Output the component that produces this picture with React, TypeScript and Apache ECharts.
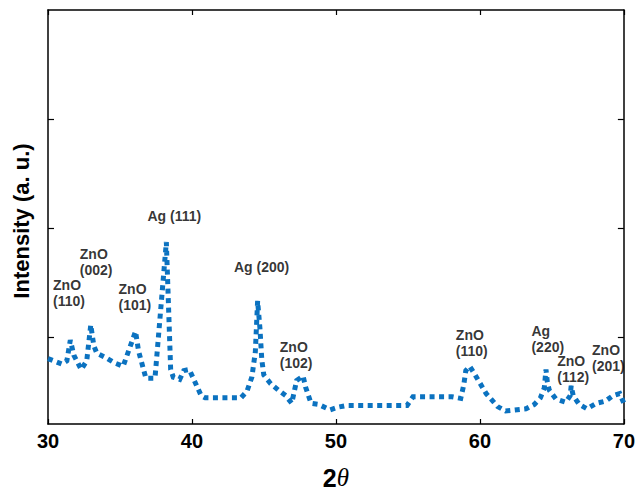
import React, { useEffect, useRef } from "react";
import * as echarts from "echarts";

const twoTheta: number[] = [
  30.0, 30.97, 31.31, 31.55, 31.8, 32.0, 32.31, 32.69, 32.97, 33.18, 33.39, 34.0, 34.63, 35.22,
  36.08, 36.29, 36.8, 37.43, 38.22, 38.52, 38.7, 39.15, 39.43, 39.81, 40.09, 40.64, 40.92, 43.4,
  43.82, 44.16, 44.4, 44.56, 44.72, 44.85, 44.99, 45.47, 46.01, 46.51, 46.93, 47.27, 47.72, 47.89,
  48.27, 48.79, 49.59, 50.17, 50.73, 54.94, 55.35, 55.77, 58.05, 58.67, 58.88, 59.02, 59.29, 59.67,
  60.43, 61.23, 61.78, 63.2, 63.78, 64.2, 64.47, 64.59, 64.68, 64.82, 65.27, 65.96, 66.27, 66.34,
  66.48, 66.9, 67.44, 68.1, 68.72, 69.23, 69.71, 70.0,
];
const intensity: number[] = [
  0.8, 0.75, 0.78, 0.97, 0.83, 0.78, 0.7, 0.78, 1.11, 0.92, 0.85, 0.81, 0.76, 0.73,
  1.05, 0.87, 0.62, 0.62, 1.87, 0.7, 0.63, 0.61, 0.69, 0.7, 0.62, 0.46, 0.44, 0.44,
  0.5, 0.63, 0.86, 1.33, 1.08, 0.79, 0.65, 0.57, 0.51, 0.46, 0.39, 0.6, 0.64, 0.54,
  0.39, 0.38, 0.33, 0.355, 0.37, 0.37, 0.45, 0.45, 0.45, 0.435, 0.56, 0.69, 0.73, 0.65,
  0.48, 0.36, 0.32, 0.34, 0.38, 0.44, 0.53, 0.7, 0.59, 0.51, 0.43, 0.4, 0.46, 0.55,
  0.46, 0.38, 0.34, 0.39, 0.41, 0.46, 0.48, 0.39,
];

// Peak annotations (label text, left x in 2θ, vertical centre in intensity units)
const peakLabels: string[] = [
  "ZnO\n(110)", "ZnO\n(002)", "ZnO\n(101)", "Ag (111)", "Ag (200)",
  "ZnO\n(102)", "ZnO\n(110)", "Ag\n(220)", "ZnO\n(112)", "ZnO\n(201)",
];
const labelX: number[] = [30.35, 32.21, 34.9, 36.91, 42.92, 46.1, 58.33, 63.58, 65.37, 67.79];
const labelY: number[] = [1.4, 1.688, 1.369, 2.113, 1.644, 0.829, 0.944, 0.979, 0.709, 0.807];

const xTicks: number[] = [30, 40, 50, 60, 70];
const yTicks: number[] = [1, 2, 3];

export default function App() {
  const ref = useRef<HTMLDivElement>(null);
  useEffect(() => {
    document.body.style.margin = "0";
    if (!ref.current) return;
    const chart = echarts.init(ref.current, null, { renderer: "svg" });
    const axisLine = { show: true, onZero: false, lineStyle: { color: "#000", width: 1.5 } };
    const font = "'Liberation Sans', Arial, sans-serif";
    const lineData = twoTheta.map((x, i) => [x, intensity[i]]);
    const annData = peakLabels.map((t, i) => ({ value: [labelX[i], labelY[i]], name: t }));
    chart.setOption({
      animation: false,
      backgroundColor: "#fff",
      grid: { left: 48, right: 10, top: 10, bottom: 56, containLabel: false },
      xAxis: [
        {
          type: "value",
          min: xTicks[0],
          max: xTicks[xTicks.length - 1],
          interval: 10,
          position: "bottom",
          axisLine,
          axisTick: { show: true, inside: true, length: 5, lineStyle: { color: "#000", width: 1.2 } },
          axisLabel: {
            show: true,
            margin: 7,
            color: "#000",
            fontSize: 20,
            fontWeight: "bold",
            fontFamily: font,
          },
          splitLine: { show: false },
          name: "{a|2}{b|θ}",
          nameLocation: "middle",
          nameGap: 41,
          nameTextStyle: {
            rich: {
              a: { fontSize: 25, fontWeight: "bold", fontFamily: font, color: "#000" },
              b: { fontSize: 25, fontStyle: "italic", fontFamily: "'Liberation Serif', serif", color: "#000" },
            },
          },
        },
        {
          type: "value",
          min: xTicks[0],
          max: xTicks[xTicks.length - 1],
          interval: 10,
          position: "top",
          axisLine,
          axisTick: { show: true, inside: true, length: 5, lineStyle: { color: "#000", width: 1.2 } },
          axisLabel: { show: false },
          splitLine: { show: false },
        },
      ],
      yAxis: [
        {
          type: "value",
          min: 0.2,
          max: 4,
          position: "left",
          axisLine,
          axisTick: {
            show: true,
            inside: true,
            length: 6,
            customValues: yTicks,
            lineStyle: { color: "#000", width: 1.2 },
          },
          axisLabel: { show: false },
          splitLine: { show: false },
          name: "Intensity (a. u.)",
          nameLocation: "middle",
          nameGap: 16,
          nameRotate: 90,
          nameTextStyle: {
            fontSize: 22,
            fontWeight: "bold",
            fontFamily: font,
            color: "#000",
            padding: [0, 8, 0, 0],
          },
        },
        {
          type: "value",
          min: 0.2,
          max: 4,
          position: "right",
          axisLine,
          axisTick: {
            show: true,
            inside: true,
            length: 6,
            customValues: yTicks,
            lineStyle: { color: "#000", width: 1.2 },
          },
          axisLabel: { show: false },
          splitLine: { show: false },
        },
      ],
      series: [
        {
          type: "line",
          data: lineData,
          xAxisIndex: 0,
          yAxisIndex: 0,
          symbol: "none",
          smooth: false,
          lineStyle: { color: "#0b72c0", width: 5, type: [5, 4.5], cap: "butt", join: "miter" },
          silent: true,
          z: 3,
        },
        {
          type: "scatter",
          data: annData,
          xAxisIndex: 0,
          yAxisIndex: 0,
          symbolSize: 0,
          silent: true,
          label: {
            show: true,
            position: [0, 0],
            align: "left",
            verticalAlign: "middle",
            formatter: (p: any) => p.name,
            fontSize: 14,
            lineHeight: 16,
            fontWeight: "bold",
            fontFamily: font,
            color: "#000",
          },
          z: 4,
        },
      ],
    });
    return () => chart.dispose();
  }, []);
  return <div ref={ref} style={{ width: 638, height: 495 }} />;
}
